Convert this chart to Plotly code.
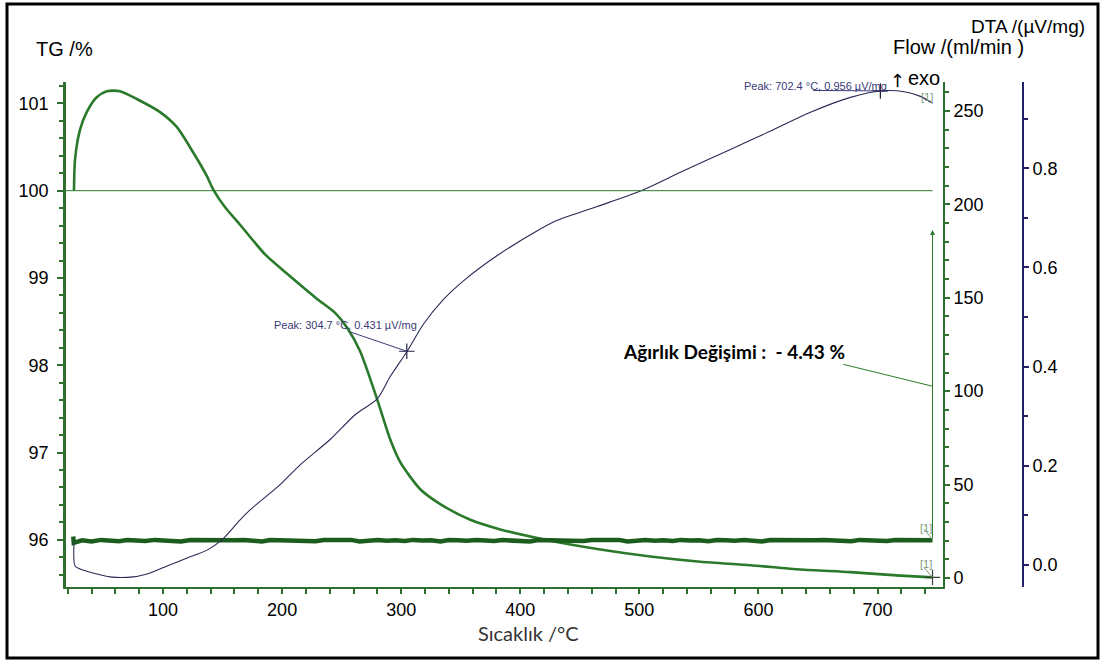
import plotly.graph_objects as go

# ---------------- data ----------------
temp_tg = [25.2, 26.1, 30.3, 35.9, 44.3, 52.7, 63.9, 77.9, 97.5, 111.5, 125.2, 136.7, 142.3, 152.1,
           164.7, 185.7, 206.7, 229.4, 244.5, 254.6, 265.5, 279.8, 290.8, 299.2, 316.0, 332.8, 358.0,
           383.2, 425.2, 467.2, 509.2, 551.3, 593.3, 635.3, 677.3, 719.3, 746.2]
tg = [100.0, 100.36, 100.70, 100.90, 101.07, 101.14, 101.14, 101.05, 100.90, 100.73, 100.44, 100.17,
      100.01, 99.81, 99.61, 99.27, 99.02, 98.76, 98.60, 98.43, 98.16, 97.61, 97.15, 96.89, 96.58,
      96.41, 96.23, 96.12, 95.99, 95.89, 95.81, 95.75, 95.71, 95.66, 95.63, 95.59, 95.57]

temp_dta = [25.2, 26.1, 30.3, 41.2, 55.5, 74.8, 89.1, 103.4, 120.2, 137.0, 149.6, 164.7, 173.1, 198.3,
            215.1, 240.3, 261.3, 279.8, 290.8, 305.0, 318.5, 335.3, 353.8, 380.7, 414.3, 431.1, 464.7,
            500.8, 534.5, 576.5, 610.1, 643.7, 677.3, 702.4, 723.5, 736.1, 746.2]
dta = [0.045, -0.002, -0.008, -0.016, -0.024, -0.024, -0.016, -0.002, 0.014, 0.030, 0.051, 0.091,
       0.111, 0.162, 0.202, 0.253, 0.303, 0.335, 0.380, 0.431, 0.485, 0.535, 0.576, 0.624, 0.674,
       0.695, 0.723, 0.754, 0.792, 0.838, 0.875, 0.913, 0.943, 0.956, 0.954, 0.945, 0.931]

temp_flow = [24.6, 25.0, 32, 40, 48, 55, 63, 70, 78, 85, 93, 100, 108, 115, 123, 130, 138, 145, 153,
             160, 168, 175, 183, 190, 198, 205, 213, 220, 228, 235, 243, 250, 258, 265, 273, 280,
             288, 295, 303, 310, 318, 325, 333, 340, 348, 355, 363, 370, 378, 385, 393, 400, 408,
             415, 423, 430, 438, 445, 453, 460, 468, 475, 483, 490, 498, 505, 513, 520, 528, 535,
             543, 550, 558, 565, 573, 580, 588, 595, 603, 610, 618, 625, 633, 640, 648, 655, 663,
             670, 678, 685, 693, 700, 708, 715, 723, 730, 738, 746.2]
flow = [22.2, 18.8, 20.2, 19.6, 20.4, 20.1, 19.7, 20.3, 20.2, 19.8, 20.4, 20.1, 20.2, 19.5, 20.3,
        20.2, 20.0, 20.4, 19.8, 20.2, 20.3, 20.1, 19.6, 20.3, 20.2, 20.0, 20.4, 20.1, 19.7, 20.3,
        20.2, 20.1, 20.4, 19.6, 20.2, 20.3, 20.0, 20.2, 19.8, 20.4, 20.1, 20.2, 19.6, 20.3, 20.2,
        20.0, 20.4, 20.1, 19.8, 20.3, 20.2, 20.1, 19.5, 20.3, 20.2, 20.0, 20.4, 20.1, 19.8, 20.3,
        20.2, 20.1, 20.4, 19.6, 20.2, 20.3, 20.0, 20.2, 19.8, 20.4, 20.1, 20.2, 19.7, 20.3, 20.2,
        20.0, 20.4, 20.1, 19.6, 20.3, 20.2, 20.1, 20.4, 19.8, 20.2, 20.3, 20.0, 20.2, 19.7, 20.4,
        20.1, 20.2, 19.8, 20.3, 20.2, 20.0, 20.3, 20.2]

x_ticks = [100, 200, 300, 400, 500, 600, 700]
tg_ticks = [96, 97, 98, 99, 100, 101]
flow_ticks = [0, 50, 100, 150, 200, 250]
dta_ticks = [0.0, 0.2, 0.4, 0.6, 0.8]

peaks_T = [304.7, 702.4]
peaks_dta = [0.431, 0.956]
mass_change = -4.43
tg_start = 100.0
tg_end = tg_start + mass_change

# ---------------- colours ----------------
GREEN_AX = "#2f6f2f"
GREEN_TG = "#2b7a2b"
GREEN_FLOW = "#1c5c1c"
NAVY = "#22226a"
DTA_COL = "#2a2a55"
PEAK_TXT = "#3a3a78"
GREY_G = "#7c9a7c"

W, H = 1101, 661
ML, MR, MT, MB = 66, 78, 82, 74
PW = W - ML - MR
PH = H - MT - MB


def px(xp):
    return (xp - ML) / PW


def py(yp):
    return (H - MB - yp) / PH


fig = go.Figure()

fig.add_trace(go.Scatter(x=temp_flow, y=flow, yaxis="y2", mode="lines",
                         line=dict(color=GREEN_FLOW, width=4.5), hoverinfo="skip"))
fig.add_trace(go.Scatter(x=temp_tg, y=tg, yaxis="y", mode="lines",
                         line=dict(color=GREEN_TG, width=2.6, shape="spline", smoothing=0.7),
                         hoverinfo="skip"))
fig.add_trace(go.Scatter(x=temp_dta, y=dta, yaxis="y3", mode="lines",
                         line=dict(color=DTA_COL, width=1.1, shape="spline", smoothing=0.8),
                         hoverinfo="skip"))
# peak crosses
fig.add_trace(go.Scatter(x=peaks_T, y=peaks_dta, yaxis="y3", mode="markers",
                         marker=dict(symbol="cross-thin", size=11, line=dict(color="#222244", width=1.2)),
                         hoverinfo="skip"))
# end cross on TG
fig.add_trace(go.Scatter(x=[temp_tg[-1]], y=[tg_end], yaxis="y", mode="markers",
                         marker=dict(symbol="cross-thin", size=11, line=dict(color="#334433", width=1.2)),
                         hoverinfo="skip"))

shapes = []
# TG 100 % reference line
shapes.append(dict(type="line", xref="x", yref="y", x0=18.5, x1=temp_tg[-1], y0=tg_start, y1=tg_start,
                   line=dict(color=GREEN_TG, width=1)))
# peak leader lines
shapes.append(dict(type="line", xref="x", yref="y3", x0=257.1, y0=0.470, x1=peaks_T[0], y1=peaks_dta[0],
                   line=dict(color=PEAK_TXT, width=1)))
shapes.append(dict(type="line", xref="x", yref="y3", x0=646.0, y0=0.957, x1=peaks_T[1], y1=peaks_dta[1],
                   line=dict(color=PEAK_TXT, width=1)))
# mass change leader line
shapes.append(dict(type="line", xref="x", yref="y", x0=671.4, y0=98.01, x1=temp_tg[-1], y1=97.76,
                   line=dict(color=GREEN_TG, width=1)))
# outer frame
shapes.append(dict(type="rect", xref="paper", yref="paper", x0=px(7), x1=px(1098), y0=py(658), y1=py(4),
                   line=dict(color="black", width=3)))

annotations = []
# vertical mass change arrow
annotations.append(dict(xref="x", yref="y", axref="x", ayref="y", x=temp_tg[-1], y=99.55,
                        ax=temp_tg[-1], ay=96.0, text="", showarrow=True, arrowhead=2,
                        arrowsize=1, arrowwidth=1, arrowcolor=GREEN_TG))
# [1] marks
annotations.append(dict(xref="x", yref="y2", axref="x", ayref="y2", x=temp_tg[-1], y=20.5,
                        ax=738, ay=27, text="", showarrow=True, arrowhead=0, arrowwidth=1,
                        arrowcolor=GREY_G))
annotations.append(dict(xref="x", yref="y", axref="x", ayref="y", x=temp_tg[-1], y=tg_end,
                        ax=738, ay=95.7, text="", showarrow=True, arrowhead=0, arrowwidth=1,
                        arrowcolor=GREY_G))
for (xx, yy) in [(927, 97), (926, 528), (926, 564)]:
    annotations.append(dict(xref="paper", yref="paper", x=px(xx), y=py(yy), text="[1]", showarrow=False,
                            font=dict(family="Liberation Sans", size=11, color=GREY_G),
                            xanchor="center", yanchor="middle"))
# peak labels
annotations.append(dict(xref="paper", yref="paper", x=px(272), y=py(325),
                        text="Peak: %.1f °C, %.3f µV/mg" % (peaks_T[0], peaks_dta[0]),
                        showarrow=False, xanchor="left", yanchor="middle",
                        font=dict(family="Liberation Sans", size=11, color=PEAK_TXT)))
annotations.append(dict(xref="paper", yref="paper", x=px(742), y=py(86),
                        text="Peak: %.1f °C, %.3f µV/mg" % (peaks_T[1], peaks_dta[1]),
                        showarrow=False, xanchor="left", yanchor="middle",
                        font=dict(family="Liberation Sans", size=11, color=PEAK_TXT)))
# exo
annotations.append(dict(xref="paper", yref="paper", x=px(897), y=py(80), text="↑", showarrow=False,
                        xanchor="center", yanchor="middle",
                        font=dict(family="DejaVu Sans", size=18, color="black")))
annotations.append(dict(xref="paper", yref="paper", x=px(924), y=py(78), text="exo", showarrow=False,
                        xanchor="center", yanchor="middle",
                        font=dict(family="Liberation Sans", size=20, color="black")))
# mass change text
annotations.append(dict(xref="paper", yref="paper", x=px(734), y=py(351),
                        text="<b>Ağırlık Değişimi :  - %.2f %%</b>" % abs(mass_change),
                        showarrow=False, xanchor="center", yanchor="middle",
                        font=dict(family="Lato", size=19, color="black")))
# axis titles
annotations.append(dict(xref="paper", yref="paper", x=px(64), y=py(49), text="TG /%", showarrow=False,
                        xanchor="center", yanchor="middle",
                        font=dict(family="Liberation Sans", size=20, color="black")))
annotations.append(dict(xref="paper", yref="paper", x=px(1028), y=py(27), text="DTA /(µV/mg)",
                        showarrow=False, xanchor="center", yanchor="middle",
                        font=dict(family="Liberation Sans", size=19, color="black")))
annotations.append(dict(xref="paper", yref="paper", x=px(958), y=py(47), text="Flow /(ml/min )",
                        showarrow=False, xanchor="center", yanchor="middle",
                        font=dict(family="Liberation Sans", size=20, color="black")))
annotations.append(dict(xref="paper", yref="paper", x=px(528), y=py(633), text="Sıcaklık /°C",
                        showarrow=False, xanchor="center", yanchor="middle",
                        font=dict(family="Lato", size=20, color="#333333")))

tickfont = dict(family="Liberation Sans", size=18, color="black")

fig.update_layout(
    width=W, height=H,
    margin=dict(l=ML, r=MR, t=MT, b=MB, pad=0),
    paper_bgcolor="white", plot_bgcolor="white",
    showlegend=False,
    xaxis=dict(domain=[0, 877 / PW], range=[18.5, 755], tickvals=x_ticks, ticks="outside", ticklen=5,
               tickwidth=1.5, tickcolor=GREEN_AX, showline=True, linecolor=GREEN_AX, linewidth=2,
               showgrid=False, zeroline=False, tickfont=tickfont,
               minor=dict(dtick=20, tick0=0, ticks="outside", ticklen=5, tickwidth=1.5, tickcolor=GREEN_AX)),
    yaxis=dict(range=[95.46, 101.245], tickvals=tg_ticks, ticks="outside", ticklen=6, tickwidth=1.5,
               tickcolor=GREEN_AX, showline=True, linecolor=GREEN_AX, linewidth=2.5, showgrid=False,
               zeroline=False, tickfont=tickfont, ticklabelstandoff=5,
               minor=dict(dtick=0.2, tick0=0, ticks="outside", ticklen=4, tickwidth=1.5, tickcolor=GREEN_AX)),
    yaxis2=dict(overlaying="y", side="right", anchor="x", range=[-4.82, 265.5], tickvals=flow_ticks,
                ticks="outside", ticklen=5, tickwidth=1.5, tickcolor=GREEN_AX, showline=True,
                linecolor=GREEN_AX, linewidth=2, showgrid=False, zeroline=False, tickfont=tickfont,
                minor=dict(dtick=10, tick0=0, ticks="outside", ticklen=4, tickwidth=1.5, tickcolor=GREEN_AX)),
    yaxis3=dict(overlaying="y", side="right", anchor="free", position=1.0, range=[-0.0444, 0.974],
                tickvals=dta_ticks, tickformat=".1f", ticks="outside", ticklen=5, tickwidth=1.5,
                tickcolor=NAVY, showline=True, linecolor=NAVY, linewidth=2, showgrid=False,
                zeroline=False, tickfont=tickfont,
                minor=dict(dtick=0.1, tick0=0, ticks="outside", ticklen=4, tickwidth=1.5, tickcolor=NAVY)),
    shapes=shapes,
    annotations=annotations,
)

fig.write_html("out.html", config={"displayModeBar": False},
               post_script="document.body.style.margin='0';")
